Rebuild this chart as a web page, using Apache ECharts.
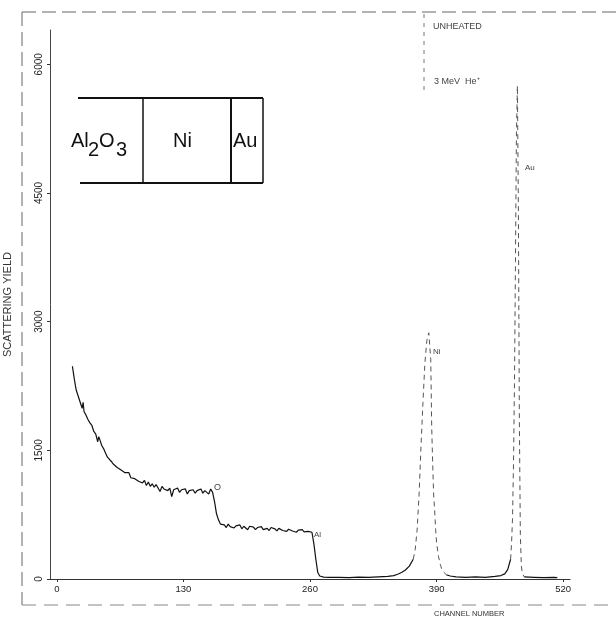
<!DOCTYPE html>
<html>
<head>
<meta charset="utf-8">
<script src="https://cdn.jsdelivr.net/npm/echarts@6/dist/echarts.min.js"></script>
<style>html,body{margin:0;padding:0;background:#fff}#c{width:616px;height:621px}</style>
</head>
<body>
<div id="c"></div>
<script>
// ---- data ----
const xTicks = [0, 130, 260, 390, 520];
const yTicks = [0, 1500, 3000, 4500, 6000];

// substrate (Al2O3) + Ni layer plateau + low-energy valley
const bgChannels = [16,18,19,20,22,24,26,27,28,30,32,34,36,38,40,42,43,44,46,48,50,52,54,56,58,60,62,64,66,68,70,72,74,76,78,80,82,84,86,88,90,92,94,96,98,100,102,104,106,108,110,112,114,116,118,120,122,124,126,128,130,132,134,136,138,140,142,144,146,148,150,152,154,156,158,160,162,164,166,168,170,172,174,176,178,180,182,184,186,188,190,192,194,196,198,200,202,204,206,208,210,212,214,216,218,220,222,224,226,228,230,232,234,236,238,240,242,244,246,248,250,252,254,256,258,260,262,264,266,268,270,274,280,290,300,310,320,330,340,346,350,354,358,362,366];
const bgYields = [2480,2330,2260,2200,2130,2060,1990,2060,1950,1910,1860,1820,1790,1720,1690,1600,1660,1630,1560,1520,1470,1420,1400,1370,1340,1350,1300,1310,1270,1260,1240,1220,1240,1180,1200,1170,1160,1140,1160,1120,1150,1090,1130,1080,1110,1070,1100,1060,1020,1080,1050,1070,1030,1060,960,1040,1030,1060,1010,1040,1020,1050,990,1030,1020,1040,1000,1030,1010,1050,1000,1030,1040,990,1050,1010,900,760,690,640,620,630,600,640,610,625,595,620,605,630,585,615,600,575,615,595,605,575,600,585,610,575,595,590,565,600,580,585,560,590,575,565,585,555,580,570,560,575,545,570,560,575,550,565,555,570,545,410,230,75,35,22,18,20,15,22,18,25,30,40,55,75,105,150,230];

// Ni surface peak
const niChannels = [366,368,370,372,374,376,378,380,382,384,385,386,387,388,389,390,392,394,396,400];
const niYields   = [230,340,570,980,1550,2060,2520,2780,2870,2560,1760,1340,980,800,580,420,260,160,95,50];

// gap between Ni and Au
const gapChannels = [400,404,410,420,430,440,450,456,460,463,466];
const gapYields   = [50,35,25,20,25,20,30,40,60,110,230];

// Au surface peak
const auChannels = [466,467,468,469,470,471,472,473,474,475,476,477,478,480];
const auYields   = [230,420,720,1350,2300,3700,5200,5750,4300,1850,520,160,65,25];

// high-energy tail
const tailChannels = [480,490,500,510,514];
const tailYields   = [25,20,15,20,15];

const pair = (xs, ys) => xs.map((x, i) => [x, ys[i]]);

const FONT = 'Liberation Sans';
const chart = echarts.init(document.getElementById('c'), null, {renderer: 'canvas'});

const solid = {color: '#111', width: 1.2};
const dashed = {color: '#555', width: 1, type: [5, 4]};

function txt(x, y, text, size, color, extra) {
  return {
    type: 'text', x: x, y: y, z: 50,
    style: Object.assign({text: text, fontSize: size, fontFamily: FONT, fill: color || '#222'}, extra || {})
  };
}
function ln(x1, y1, x2, y2, w, color, dash) {
  return {type: 'line', z: 40, shape: {x1: x1, y1: y1, x2: x2, y2: y2},
    style: {stroke: color || '#111', lineWidth: w || 1, lineDash: dash || null}};
}

const option = {
  animation: false,
  backgroundColor: '#fff',
  grid: {left: 50, right: 46, top: 30, bottom: 42, outerBoundsMode: 'none', containLabel: false},
  xAxis: {
    type: 'value', min: -7, max: 527,
    axisLine: {onZero: false, lineStyle: {color: '#333', width: 1}},
    axisTick: {show: true, customValues: xTicks, length: 3, lineStyle: {color: '#333'}},
    axisLabel: {customValues: xTicks, color: '#222', fontSize: 9.5, margin: 5, fontFamily: FONT,
      formatter: v => String(v)},
    splitLine: {show: false}
  },
  yAxis: {
    type: 'value', min: 0, max: 6400,
    name: 'SCATTERING YIELD', nameLocation: 'middle', nameGap: 37, nameRotate: 90,
    nameTextStyle: {fontSize: 11, color: '#333', fontFamily: FONT},
    axisLine: {show: true, onZero: false, lineStyle: {color: '#444', width: 1}},
    axisTick: {show: true, customValues: yTicks, length: 3, lineStyle: {color: '#333'}},
    axisLabel: {customValues: yTicks, rotate: 90, color: '#222', fontSize: 10, margin: 6, fontFamily: FONT,
      formatter: v => String(v)},
    splitLine: {show: false}
  },
  series: [
    {type: 'line', data: pair(bgChannels, bgYields), showSymbol: false, lineStyle: solid},
    {type: 'line', data: pair(niChannels, niYields), showSymbol: false, lineStyle: dashed},
    {type: 'line', data: pair(gapChannels, gapYields), showSymbol: false, lineStyle: solid},
    {type: 'line', data: pair(auChannels, auYields), showSymbol: false, lineStyle: dashed},
    {type: 'line', data: pair(tailChannels, tailYields), showSymbol: false, lineStyle: solid}
  ],
  graphic: [
    // outer dashed frame
    ln(22, 12, 616, 12, 1, '#666', [14, 6]),
    ln(22, 12, 22, 605, 1, '#666', [14, 6]),
    ln(22, 605, 616, 605, 1, '#888', [14, 8]),
    ln(424, 14, 424, 92, 1, '#777', [4, 5]),
    // inset layer diagram
    ln(78, 98, 263, 98, 2),
    ln(80, 183, 263, 183, 2),
    ln(143, 98, 143, 183, 1.5),
    ln(231, 98, 231, 183, 2),
    ln(263, 98, 263, 183, 1.5),
    txt(71, 131, 'Al', 20, '#111'),
    txt(88, 140, '2', 20, '#111'),
    txt(99, 131, 'O', 20, '#111'),
    txt(116, 140, '3', 20, '#111'),
    txt(173, 131, 'Ni', 20, '#111'),
    txt(233, 131, 'Au', 20, '#111'),
    // annotations
    txt(433, 22, 'UNHEATED', 9, '#444'),
    txt(434, 77, '3 MeV  He\u207A', 9, '#444'),
    txt(525, 164, 'Au', 8, '#444'),
    txt(433, 348, 'Ni', 8, '#444'),
    txt(214, 483, 'O', 9, '#444'),
    txt(314, 531, 'Al', 8, '#444'),
    txt(434, 610, 'CHANNEL NUMBER', 7.5, '#333')
  ]
};
chart.setOption(option);
</script>
</body>
</html>
